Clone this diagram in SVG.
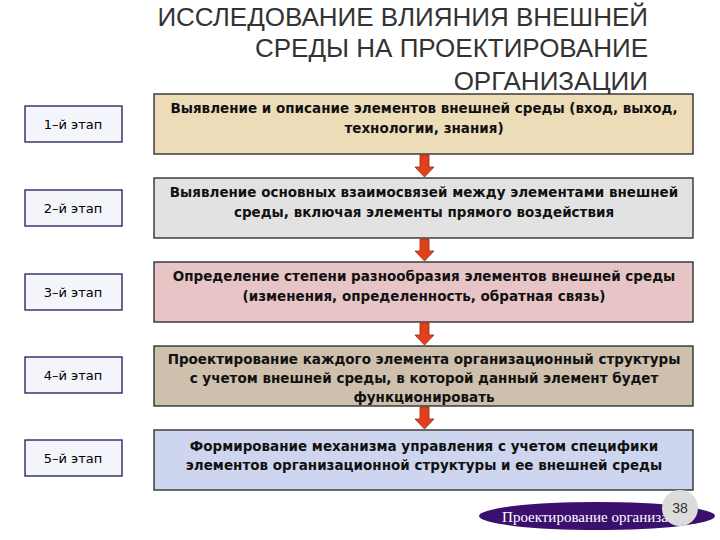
<svg xmlns="http://www.w3.org/2000/svg" width="720" height="540" viewBox="0 0 720 540">
<style>
.t{font-family:"Liberation Sans",Arial,sans-serif;fill:#333;font-size:26px;text-anchor:end}
.st{fill:#f4f4fb;stroke:#1a1a5a;stroke-width:1.3}
.sl{font-family:"DejaVu Sans",Verdana,sans-serif;font-size:13px;text-anchor:middle;fill:#000}
.bx{stroke:#222;stroke-width:1.3}
.bl{font-family:"DejaVu Sans",Verdana,sans-serif;font-size:13.5px;font-weight:bold;text-anchor:middle;fill:#111}
.ar{fill:#e2401a;stroke:#9a2a10;stroke-width:0.8}
</style>
<rect width="720" height="540" fill="#fff"/>
<text class="t" x="648" y="26">ИССЛЕДОВАНИЕ ВЛИЯНИЯ ВНЕШНЕЙ</text>
<text class="t" x="648" y="57">СРЕДЫ НА ПРОЕКТИРОВАНИЕ</text>
<text class="t" x="648" y="90">ОРГАНИЗАЦИИ</text>
<g id="stages">
<g id="s1"><rect class="st" x="25" y="106" width="97" height="36"/><text class="sl" x="73" y="129">1–й этап</text></g>
<g id="s2"><rect class="st" x="25" y="190" width="97" height="36"/><text class="sl" x="73" y="213">2–й этап</text></g>
<g id="s3"><rect class="st" x="25" y="274" width="97" height="36"/><text class="sl" x="73" y="297">3–й этап</text></g>
<g id="s4"><rect class="st" x="25" y="357" width="97" height="36"/><text class="sl" x="73" y="380">4–й этап</text></g>
<g id="s5"><rect class="st" x="25" y="440" width="97" height="36"/><text class="sl" x="73" y="463">5–й этап</text></g>
</g>
<g id="b1"><rect class="bx" x="154" y="94" width="539" height="60" fill="#ecdcb8"/>
<text class="bl" x="424" y="113">Выявление и описание элементов внешней среды (вход, выход,</text>
<text class="bl" x="424" y="133">технологии, знания)</text></g>
<g id="b2"><rect class="bx" x="154" y="178" width="539" height="60" fill="#e2e2e2"/>
<text class="bl" x="424" y="197">Выявление основных взаимосвязей между элементами внешней</text>
<text class="bl" x="424" y="217">среды, включая элементы прямого воздействия</text></g>
<g id="b3"><rect class="bx" x="154" y="262" width="539" height="60" fill="#e7c4c6"/>
<text class="bl" x="424" y="281">Определение степени разнообразия элементов внешней среды</text>
<text class="bl" x="424" y="301">(изменения, определенность, обратная связь)</text></g>
<g id="b4"><rect class="bx" x="154" y="346" width="539" height="60" fill="#cec0ac"/>
<text class="bl" x="424" y="364">Проектирование каждого элемента организационный структуры</text>
<text class="bl" x="424" y="383">с учетом внешней среды, в которой данный элемент будет</text>
<text class="bl" x="424" y="402">функционировать</text></g>
<g id="b5"><rect class="bx" x="154" y="430" width="539" height="60" fill="#cdd6ee"/>
<text class="bl" x="424" y="451">Формирование механизма управления с учетом специфики</text>
<text class="bl" x="424" y="470">элементов организационной структуры и ее внешней среды</text></g>
<g id="connectors">
<path class="ar" d="M420 155h9v12h5l-9.5 10l-9.5-10h5z"/>
<path class="ar" d="M420 239h9v12h5l-9.5 10l-9.5-10h5z"/>
<path class="ar" d="M420 323h9v12h5l-9.5 10l-9.5-10h5z"/>
<path class="ar" d="M420 407h9v12h5l-9.5 10l-9.5-10h5z"/>
</g>
<g id="footer">
<ellipse cx="597" cy="516" rx="118" ry="14" fill="#3a0f6e"/>
<text x="597" y="522" font-family="'Liberation Serif',serif" font-size="15" fill="#fff" text-anchor="middle">Проектирование организации</text>
<circle cx="680" cy="508" r="18" fill="#dcdcdc"/>
<text x="680" y="513" font-family="'Liberation Sans',Arial,sans-serif" font-size="14" fill="#333" text-anchor="middle">38</text>
</g>
</svg>
